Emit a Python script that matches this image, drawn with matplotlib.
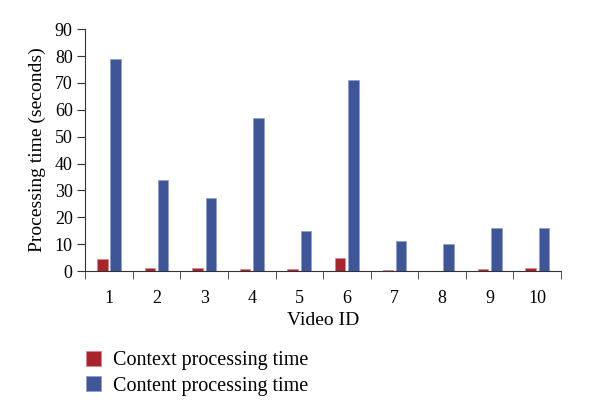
import matplotlib
matplotlib.use("Agg")
import matplotlib.pyplot as plt
import numpy as np

categories = ["1", "2", "3", "4", "5", "6", "7", "8", "9", "10"]
context_time = [4.4, 1.0, 1.0, 0.8, 0.7, 4.9, 0.3, 0.0, 0.7, 1.3]
content_time = [79, 34, 27, 57, 15, 71, 11, 10, 16, 16]

plt.rcParams['font.family'] = ['Liberation Serif', 'DejaVu Serif']

fig = plt.figure(figsize=(6, 4.17), dpi=100)
ax = fig.add_axes([0.142, 0.35, 0.793, 0.58])

x = np.arange(len(categories))
w = 0.22
red = '#A8232B'
blue = '#3E5598'
ax.bar(x - 0.14, context_time, w, color=red, edgecolor='#D98A8A', linewidth=0.6, label='Context processing time')
ax.bar(x + 0.14, content_time, w, color=blue, edgecolor='#8FA0CF', linewidth=0.6, label='Content processing time')

ax.set_xlim(-0.5, len(categories) - 0.5)
ax.set_ylim(0, 90)
ax.set_yticks(np.arange(0, 91, 10))
ax.set_xticks(x)
ax.set_xticklabels(categories, fontsize=13)
ax.set_xticks(np.arange(-0.5, len(categories), 1), minor=True)
ax.tick_params(axis='x', which='major', length=0, pad=14)
ax.tick_params(axis='x', which='minor', length=6, direction='out', color='#333333')
ax.tick_params(axis='y', labelsize=13, length=6, direction='out', color='#333333', pad=3)
for s in ['top', 'right']:
    ax.spines[s].set_visible(False)
ax.spines['left'].set_color('#333333')
ax.spines['bottom'].set_color('#333333')
ax.set_xlabel('Video ID', fontsize=14, labelpad=3)
ax.set_ylabel('Processing time (seconds)', fontsize=14, labelpad=6)

ax.legend(loc='upper left', bbox_to_anchor=(-0.037, -0.255), frameon=False, fontsize=14.5,
          handlelength=0.75, handleheight=0.75, handletextpad=0.6, labelspacing=0.3)

fig.savefig('out.png', dpi=100)
